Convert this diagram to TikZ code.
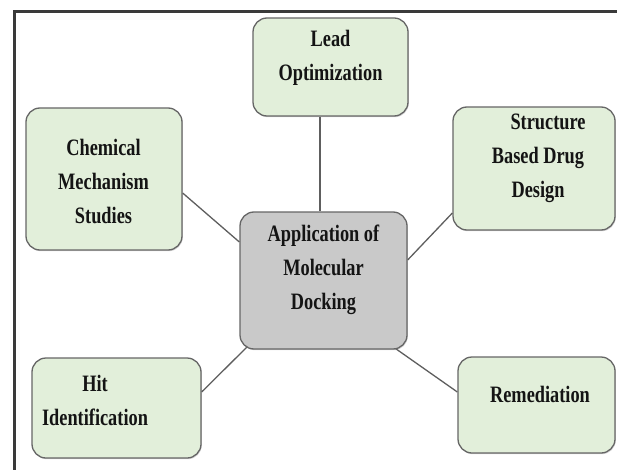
\documentclass[tikz,border=0pt]{standalone}
\usepackage{fontspec}
\setmainfont[FakeStretch=0.78]{Liberation Serif}
\usetikzlibrary{backgrounds,shadows}
\definecolor{boxgreen}{HTML}{E2EFDA}
\definecolor{boxgray}{HTML}{C9C9C9}
\definecolor{edgegray}{HTML}{666666}
\definecolor{linkgray}{HTML}{5E5E5E}
\definecolor{framegray}{HTML}{3A3A3A}
\begin{document}
\begin{tikzpicture}[x=1pt,y=-1pt,
  box/.style={draw=edgegray, line width=1.3pt, rounded corners=14pt, inner sep=0pt,
    drop shadow={shadow xshift=0.8pt, shadow yshift=-1.2pt, opacity=0.35}},
  greenbox/.style={box, fill=boxgreen},
  graybox/.style={box, fill=boxgray},
  lbl/.style={align=center, font=\fontsize{23.5}{34}\selectfont\bfseries, text=black!92, inner sep=0pt},
  link/.style={draw=linkgray, line width=1.3pt}]
\useasboundingbox (0,0) rectangle (617,470);
% frame
\draw[framegray, line width=3pt] (14,470) -- (14,12) -- (617,12);
% boxes
\node[greenbox, minimum width=155pt, minimum height=98pt] (lead) at (330.5,67) {};
\node[greenbox, minimum width=156pt, minimum height=142pt] (chem) at (104,179) {};
\node[greenbox, minimum width=162pt, minimum height=123pt] (struct) at (534,168.5) {};
\node[graybox, minimum width=167pt, minimum height=137pt] (center) at (323.5,280.5) {};
\node[greenbox, minimum width=169pt, minimum height=100pt] (hit) at (116.5,408) {};
\node[greenbox, minimum width=157pt, minimum height=96pt] (rem) at (536.5,405) {};
% texts
\node[lbl] (leadt) at (330.5,58) {Lead\\Optimization};
\node[lbl] (chemt) at (103.5,181) {Chemical\\Mechanism\\Studies};
\node[lbl] (structt) at (538,158) {\hspace*{20pt}Structure\\Based Drug\\Design};
\node[lbl] (centert) at (323.5,270) {Application of\\Molecular\\Docking};
\node[lbl] (hitt) at (95,400) {Hit\\Identification};
\node[lbl] (remt) at (540,394) {Remediation};
% connectors
\begin{scope}[on background layer]
\draw[link] ([xshift=-10.5pt]lead.south) coordinate (ls) -- (ls |- center.north);
\draw[link] ([yshift=-14pt]chem.east) -- ([yshift=38.5pt]center.west);
\draw[link] ([yshift=-44.5pt]struct.west) -- ([yshift=20.5pt]center.east);
\draw[link] ([yshift=16pt]hit.east) -- ([xshift=8pt,yshift=3pt]center.south west);
\draw[link] ([yshift=13pt]rem.west) -- ([xshift=-12pt,yshift=1pt]center.south east);
\end{scope}
\end{tikzpicture}
\end{document}
